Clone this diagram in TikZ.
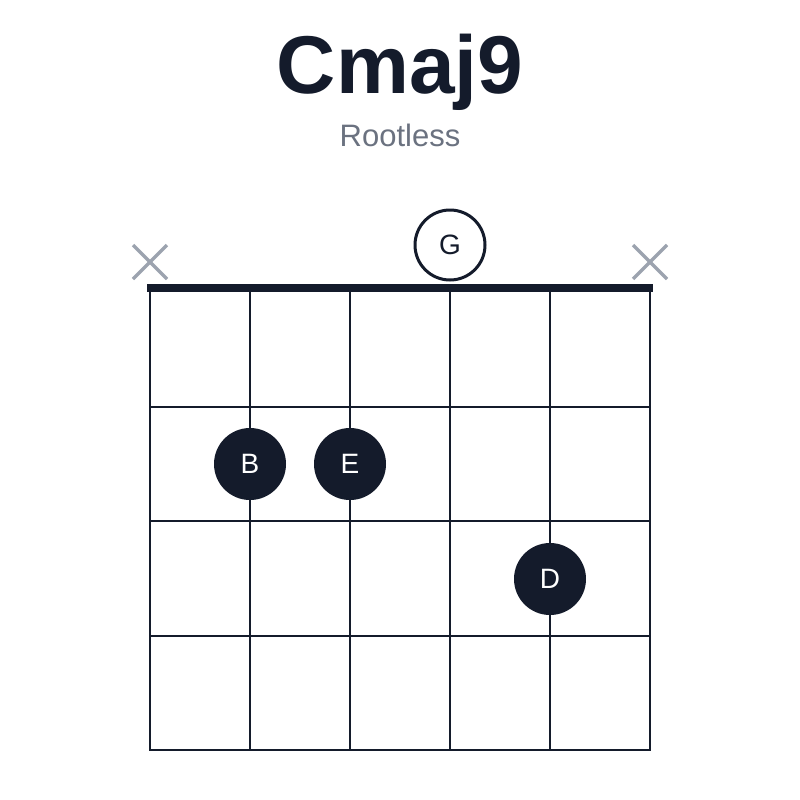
\documentclass[tikz,border=0pt]{standalone}
\usepackage{fontspec}
\setmainfont{Liberation Sans}
\definecolor{ink}{HTML}{141B2B}
\definecolor{sub}{HTML}{6B7280}
\definecolor{xg}{HTML}{9CA3AF}
\begin{document}
\begin{tikzpicture}[x=1pt,y=-1pt,
  grid/.style={ink,line width=2.5pt},
  dot/.style={circle,fill=ink,minimum size=72pt,inner sep=0pt,text=white,font=\fontsize{28}{28}\selectfont},
  open/.style={circle,draw=ink,line width=3pt,fill=white,minimum size=70pt,inner sep=0pt,text=ink,font=\fontsize{28}{28}\selectfont},
  mute/.style={xg,line width=3.5pt}]
\useasboundingbox (0,0) rectangle (800,800);
\fill[white] (0,0) rectangle (800,800);
\node[text=ink,font=\bfseries\fontsize{82}{82}\selectfont] (title) at (400,72) {Cmaj9};
\node[text=sub,font=\fontsize{31}{31}\selectfont] (subtitle) at (400,135) {Rootless};
\foreach \x in {150,250,350,450,550,650} \draw[grid] (\x,288) -- (\x,751);
\foreach \y in {407,521,636,750} \draw[grid] (149,\y) -- (651,\y);
\draw[ink,line width=8pt] (147,288) -- (653,288);
\foreach \x/\n in {150/xa,650/xb}{
  \coordinate (\n) at (\x,262);
  \draw[mute] ([shift={(-17,-17)}]\n) -- ([shift={(17,17)}]\n);
  \draw[mute] ([shift={(-17,17)}]\n) -- ([shift={(17,-17)}]\n);
}
\node[open] (g) at (450,245) {G};
\node[dot] (b) at (250,464) {B};
\node[dot] (e) at (350,464) {E};
\node[dot] (d) at (550,579) {D};
\end{tikzpicture}
\end{document}
